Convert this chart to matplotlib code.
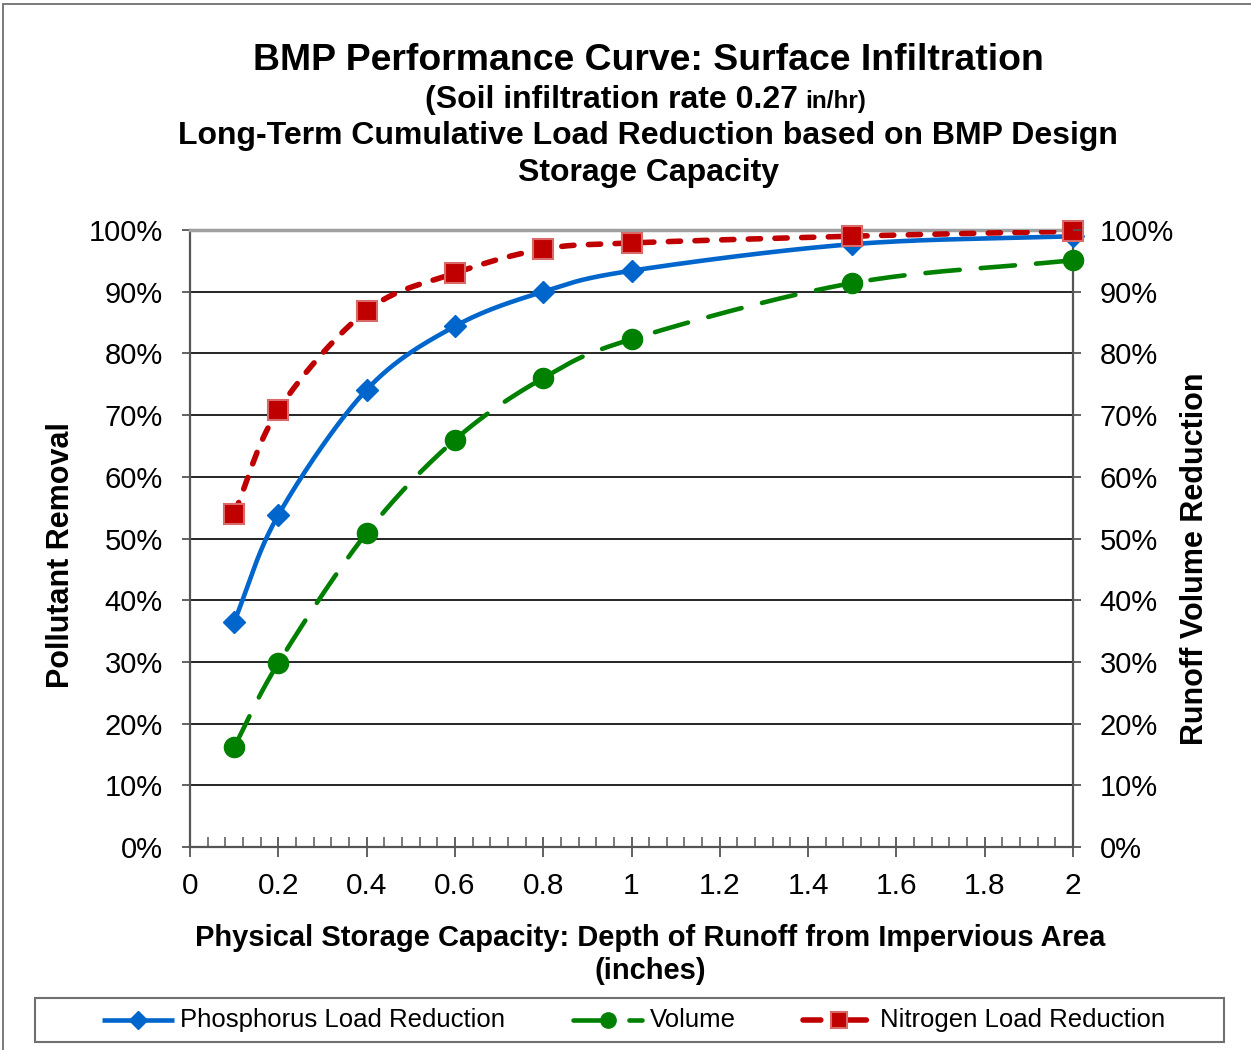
import matplotlib
matplotlib.use("Agg")

import numpy as np
import matplotlib.pyplot as plt
from matplotlib.patches import Rectangle
from matplotlib.lines import Line2D
from matplotlib.ticker import MultipleLocator, FuncFormatter

plt.rcParams["font.family"] = ["Liberation Sans", "DejaVu Sans"]

# ---------------------------------------------------------
# Data
# ---------------------------------------------------------
depth = [0.1, 0.2, 0.4, 0.6, 0.8, 1.0, 1.5, 2.0]
phosphorus = [36.5, 53.8, 74.1, 84.4, 90.0, 93.4, 97.7, 99.0]
volume = [16.2, 29.8, 50.9, 66.0, 76.0, 82.3, 91.4, 95.1]
nitrogen = [54.0, 70.8, 86.9, 93.0, 96.9, 97.9, 99.0, 99.8]

x_ticks = [0, 0.2, 0.4, 0.6, 0.8, 1, 1.2, 1.4, 1.6, 1.8, 2]
x_tick_labels = ["0", "0.2", "0.4", "0.6", "0.8", "1", "1.2", "1.4",
                 "1.6", "1.8", "2"]
series_names = ["Phosphorus Load Reduction", "Volume", "Nitrogen Load Reduction"]

C_P = "#0066CC"
C_V = "#008000"
C_N = "#C00000"
C_N_EDGE = "#D96A6A"

W, H = 1251, 1050


def fx(px):
    return px / W


def fy(py):
    return 1 - py / H


def smooth(xs, ys, n=30):
    """Catmull-Rom curve through the points, like Excel's smoothed line."""
    x = np.asarray(xs, float)
    y = np.asarray(ys, float)
    px = np.concatenate([[2 * x[0] - x[1]], x, [2 * x[-1] - x[-2]]])
    py = np.concatenate([[2 * y[0] - y[1]], y, [2 * y[-1] - y[-2]]])
    out_x, out_y = [], []
    t = np.linspace(0, 1, n)
    for i in range(1, len(px) - 2):
        for arr, out in ((px, out_x), (py, out_y)):
            p0, p1, p2, p3 = arr[i - 1], arr[i], arr[i + 1], arr[i + 2]
            seg = 0.5 * ((2 * p1) + (-p0 + p2) * t
                         + (2 * p0 - 5 * p1 + 4 * p2 - p3) * t ** 2
                         + (-p0 + 3 * p1 - 3 * p2 + p3) * t ** 3)
            out.extend(seg if i == 1 else seg[1:])
    return np.array(out_x), np.array(out_y)


fig = plt.figure(figsize=(W / 100, H / 100), dpi=100)
ax = fig.add_axes([fx(190), fy(847), fx(883), 617 / H])

# outer frame of the chart area
fig.patches.append(Rectangle((fx(3), -0.1), 1.2, fy(4) + 0.1,
                             transform=fig.transFigure, fill=False,
                             edgecolor="#707070", lw=1.3, zorder=0))

# grid lines
for v in range(10, 100, 10):
    ax.axhline(v, color="black", lw=1.2, zorder=1)

LW_P, LW_V, LW_N = 3.3, 3.3, 4.0
DASH_V = (7.5, 4.6)
DASH_N = (2.2, 2.6)

sx, sy = smooth(depth, phosphorus)
ax.plot(sx, sy, color=C_P, lw=LW_P, zorder=3, solid_capstyle="round")
ax.plot(depth, phosphorus, ls="none", marker="D", ms=11, color=C_P,
        mec=C_P, zorder=4, clip_on=False)

sx, sy = smooth(depth, volume)
ax.plot(sx, sy, color=C_V, lw=LW_V, zorder=3, dashes=DASH_V,
        dash_capstyle="round")
ax.plot(depth, volume, ls="none", marker="o", ms=14.5, color=C_V,
        mec=C_V, zorder=4, clip_on=False)

sx, sy = smooth(depth, nitrogen)
ax.plot(sx, sy, color=C_N, lw=LW_N, zorder=3, dashes=DASH_N,
        dash_capstyle="round")
ax.plot(depth, nitrogen, ls="none", marker="s", ms=14.5, color=C_N,
        mec=C_N_EDGE, mew=1.5, zorder=5, clip_on=False)

ax.set_xlim(0, 2)
ax.set_ylim(0, 100)
ax.set_xticks(x_ticks)
ax.set_xticklabels(x_tick_labels, fontsize=21.5)
ax.xaxis.set_minor_locator(MultipleLocator(0.04))
ax.tick_params(axis="x", which="major", direction="inout", length=14,
               width=1.3, color="#555555", pad=11)
ax.tick_params(axis="x", which="minor", direction="in", length=7,
               width=1.1, color="#555555")
ax.set_yticks(range(0, 101, 10))
pct = FuncFormatter(lambda v, _: f"{v:.0f}%")
ax.yaxis.set_major_formatter(pct)
ax.tick_params(axis="y", direction="out", length=6, width=1.3,
               color="#555555", labelsize=21, pad=13.5)

for s in ("left", "bottom", "right"):
    ax.spines[s].set_color("#555555")
    ax.spines[s].set_linewidth(1.6)
ax.spines["top"].set_color("#A0A0A0")
ax.spines["top"].set_linewidth(2.5)

ax2 = ax.twinx()
ax2.set_ylim(0, 100)
ax2.set_yticks(range(0, 101, 10))
ax2.yaxis.set_major_formatter(pct)
ax2.tick_params(axis="y", direction="out", length=6, width=1.3,
                color="#555555", labelsize=21, pad=13)
for s in ax2.spines.values():
    s.set_visible(False)

# axis titles
fig.text(fx(61), fy(555), "Pollutant Removal", rotation=90, ha="center",
         va="center", fontsize=22, fontweight="bold")
fig.text(fx(1195), fy(559), "Runoff Volume Reduction", rotation=90,
         ha="center", va="center", fontsize=22, fontweight="bold")
fig.text(fx(650), fy(938),
         "Physical Storage Capacity: Depth of Runoff from Impervious Area",
         ha="center", va="center", fontsize=21, fontweight="bold")
fig.text(fx(650), fy(971), "(inches)", ha="center", va="center",
         fontsize=21, fontweight="bold")

# chart titles
fig.text(fx(648), fy(60), "BMP Performance Curve: Surface Infiltration",
         ha="center", va="center", fontsize=26.9, fontweight="bold")
fig.text(fx(798), fy(108), "(Soil infiltration rate 0.27",
         ha="right", va="baseline", fontsize=23, fontweight="bold")
fig.text(fx(805), fy(108), "in/hr)",
         ha="left", va="baseline", fontsize=17.5, fontweight="bold")
fig.text(fx(648), fy(136),
         "Long-Term Cumulative Load Reduction based on BMP Design",
         ha="center", va="center", fontsize=23, fontweight="bold")
fig.text(fx(648), fy(173), "Storage Capacity",
         ha="center", va="center", fontsize=23, fontweight="bold")

# legend (drawn by hand to follow the reference layout)
fig.patches.append(Rectangle((fx(35), fy(1042)), 1189 / W, 44 / H,
                             transform=fig.transFigure, fill=False,
                             edgecolor="#707070", lw=1.5, zorder=1))
ly = fy(1020)
legend_items = [
    (102, 174, 138, dict(color=C_P, lw=LW_P, solid_capstyle="butt"),
     dict(marker="D", ms=9, color=C_P), 180),
    (573, 642, 608, dict(color=C_V, lw=LW_V, dashes=(7.8, 4.4),
                         dash_capstyle="round"),
     dict(marker="o", ms=11, color=C_V), 650),
    (803, 876, 839, dict(color=C_N, lw=LW_N, dashes=(3.2, 5.0),
                         dash_capstyle="round"),
     dict(marker="s", ms=11, color=C_N, mec=C_N_EDGE, mew=1.5), 880),
]
for (x0, x1, xm, lkw, mkw, xt), name in zip(legend_items, series_names):
    fig.add_artist(Line2D([fx(x0), fx(x1)], [ly, ly],
                          transform=fig.transFigure, **lkw))
    fig.add_artist(Line2D([fx(xm)], [ly], transform=fig.transFigure,
                          ls="none", **mkw))
    fig.text(fx(xt), ly, name, ha="left", va="center", fontsize=18.5)

fig.savefig("out.png", dpi=100)
